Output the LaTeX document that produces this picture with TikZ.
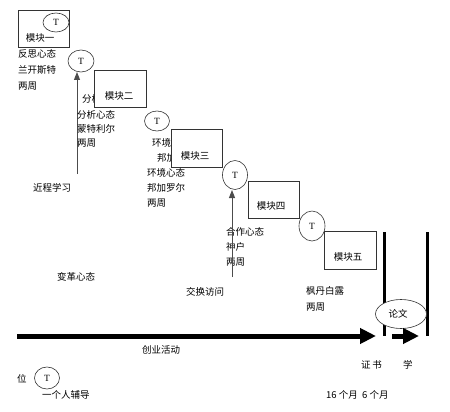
\documentclass[tikz,border=0pt]{standalone}
\usepackage{fontspec}
\setmainfont{Liberation Serif}
\newfontfamily\cjk{Noto Sans CJK SC}
\usetikzlibrary{arrows.meta,shapes.geometric}
\begin{document}
\begin{tikzpicture}[x=1pt,y=-1pt,
  txt/.style={anchor=west,inner sep=0pt,font=\cjk\fontsize{9.5}{11}\selectfont},
  ctxt/.style={inner sep=0pt,font=\cjk\fontsize{9.5}{11}\selectfont},
  modbox/.style={draw=black!80,line width=0.6pt,fill=white},
  tnode/.style={ellipse,draw=black!80,line width=0.6pt,fill=white,inner sep=0pt,font=\fontsize{9.5}{10}\selectfont},
  thinarrow/.style={draw=black!70,line width=1pt,-{Triangle[length=8pt,width=6pt]}},
  thickarrow/.style={line width=5pt,-{Triangle[length=16pt,width=15pt]}},
  barline/.style={line width=3pt}
]
\useasboundingbox (0,0) rectangle (450,412);

% module one
\draw[modbox] (18,10) rectangle (69,47);
\node[ctxt] (m1) at (40,38) {模块一};
\node[tnode,minimum width=26pt,minimum height=19pt] (t1) at (56,22.5) {T};
\node[txt] (a1) at (18,54) {反思心态};
\node[txt] (a2) at (18,70) {兰开斯特};
\node[txt] (a3) at (18,86) {两周};

% second T and arrow
\node[tnode,minimum width=26pt,minimum height=22pt] (t2) at (81,61) {T};
\coordinate (p1s) at (77,174);
\coordinate (p1e) at (77,72);
\draw[thinarrow] (p1s) -- (p1e);

% module two
\node[txt] (h1) at (82,99) {分析};
\draw[modbox] (94,70) rectangle (146,107);
\node[ctxt] (m2) at (119,96) {模块二};
\node[txt] (b1) at (77,115) {分析心态};
\node[txt] (b2) at (77,129) {蒙特利尔};
\node[txt] (b3) at (77,143) {两周};

% module three
\node[tnode,minimum width=25pt,minimum height=20pt] (t3) at (157,121) {T};
\node[txt] (h2) at (152,143) {环境};
\node[txt] (h3) at (157,158) {邦加};
\draw[modbox] (171,129) rectangle (222,167);
\node[ctxt] (m3) at (195,156) {模块三};
\node[txt] (c1) at (147,173) {环境心态};
\node[txt] (c2) at (147,188) {邦加罗尔};
\node[txt] (c3) at (147,203) {两周};
\node[txt] (jc) at (33,188) {近程学习};

% module four
\node[tnode,minimum width=25pt,minimum height=29pt] (t4) at (235,175) {T};
\node[txt] (d1) at (226,232) {合作心态};
\node[txt] (d2) at (226,247) {神户};
\node[txt] (d3) at (226,262) {两周};
\coordinate (p2s) at (232,277);
\coordinate (p2e) at (232,190);
\draw[thinarrow] (p2s) -- (p2e);
\draw[modbox] (248,181) rectangle (299,218);
\node[ctxt] (m4) at (271,206) {模块四};

% module five
\node[tnode,minimum width=26pt,minimum height=30pt] (t5) at (312,226) {T};
\draw[modbox] (324,231) rectangle (376,269);
\node[ctxt] (m5) at (348,257) {模块五};

% lower texts
\node[txt] (bg) at (57,277) {变革心态};
\node[txt] (jh) at (186,292) {交换访问};
\node[txt] (e1) at (306,291) {枫丹白露};
\node[txt] (e2) at (306,307) {两周};

% bars and thesis
\coordinate (v1t) at (384,232);
\coordinate (v1b) at (384,336);
\coordinate (v2t) at (427,232);
\coordinate (v2b) at (427,336);
\draw[barline] (v1t) -- (v1b);
\draw[barline] (v2t) -- (v2b);
\node[ellipse,draw=black!80,line width=0.6pt,fill=white,minimum width=51pt,minimum height=29pt,inner sep=0pt] (lw) at (401,314) {};
\node[ctxt] (lwt) at (398,314) {论文};

% main arrows
\coordinate (q1s) at (17,336);
\coordinate (q1e) at (376,336);
\draw[thickarrow] (q1s) -- (q1e);
\coordinate (q2s) at (392,336);
\coordinate (q2e) at (419,336);
\draw[thickarrow] (q2s) -- (q2e);

\node[txt] (cy) at (142,350) {创业活动};
\node[txt] (zs) at (361,365) {证\,书};
\node[txt] (xu) at (403,365) {学};
\node[txt] (wei) at (17,379) {位};
\node[tnode,minimum width=25pt,minimum height=22pt] (t6) at (47,378) {T};
\node[txt] (gr) at (42,395) {一个人辅导};
\node[txt] (mo) at (326,395) {16 个月\ \ 6 个月};
\end{tikzpicture}
\end{document}
